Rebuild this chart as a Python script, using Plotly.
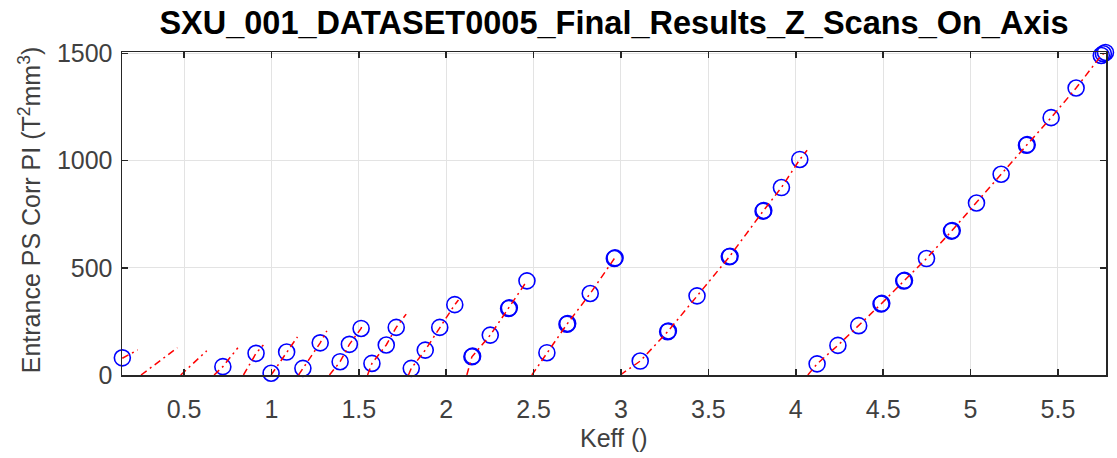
import plotly.graph_objects as go

# ---- measured points (Keff, Entrance PS Corr PI) ----
keff = [0.147, 0.722, 0.912, 0.998, 1.087, 1.180, 1.279, 1.393, 1.446, 1.513,
        1.575, 1.657, 1.714, 1.800, 1.880, 1.963, 2.049, 2.147, 2.252, 2.357,
        2.462, 2.576, 2.691, 2.824, 2.962, 3.110, 3.267, 3.435, 3.620, 3.813,
        3.918, 4.023, 4.122, 4.241, 4.360, 4.488, 4.618, 4.748, 4.891, 5.034,
        5.175, 5.320, 5.461, 5.604, 5.748, 5.760, 5.772]
pi_vals = [80, 39, 101, 8, 107, 31, 150, 62, 143, 217,
           54, 140, 222, 31, 116, 222, 328, 85, 186, 310,
           439, 104, 237, 380, 543, 65, 202, 369, 551, 764,
           874, 1005, 52, 138, 230, 331, 438, 543, 671, 802,
           936, 1071, 1200, 1338, 1490, 1498, 1504]

# repeated measurements (overlapping circles)
keff_rep = [2.151, 2.361, 2.695, 2.966, 3.271, 3.624, 3.817, 4.492, 4.622, 4.895, 5.324]
pi_rep = [88, 313, 240, 546, 205, 554, 767, 334, 441, 674, 1074]

# ---- fitted scan lines (None separates scans) ----
fit_keff = [0.147, 0.235, None,
            0.254, 0.462, None,
            0.481, 0.630, None,
            0.672, 0.722, 0.808, None,
            0.840, 0.912, 0.954, None,
            0.998, 1.087, 1.149, None,
            1.155, 1.180, 1.279, 1.317, None,
            1.332, 1.393, 1.446, 1.513, 1.520, None,
            1.550, 1.575, 1.657, 1.714, 1.771, None,
            1.784, 1.800, 1.880, 1.963, 2.049, 2.070, None,
            2.118, 2.147, 2.252, 2.357, 2.462, None,
            2.490, 2.576, 2.691, 2.824, 2.962, None,
            2.996, 3.110, 3.267, 3.435, 3.620, 3.813, 3.918, 4.023, 4.065, None,
            4.069, 4.122, 4.241, 4.360, 4.488, 4.618, 4.748, 4.891, 5.034, 5.175,
            5.320, 5.461, 5.604, 5.748, 5.775]
fit_pi = [78, 117, None,
          0, 127, None,
          0, 113, None,
          0, 39, 127, None,
          0, 101, 140, None,
          0, 107, 178, None,
          0, 31, 150, 206, None,
          0, 62, 143, 217, 235, None,
          0, 54, 140, 222, 284, None,
          0, 31, 116, 222, 328, 350, None,
          0, 85, 186, 310, 439, None,
          0, 104, 237, 380, 543, None,
          0, 65, 202, 369, 551, 764, 874, 1005, 1048, None,
          0, 52, 138, 230, 331, 438, 543, 671, 802, 936,
          1071, 1200, 1338, 1490, 1506]

x_ticks = [0.5, 1, 1.5, 2, 2.5, 3, 3.5, 4, 4.5, 5, 5.5]
x_tick_text = ["0.5", "1", "1.5", "2", "2.5", "3", "3.5", "4", "4.5", "5", "5.5"]
y_ticks = [0, 500, 1000, 1500]
y_tick_text = ["0", "500", "1000", "1500"]

title_text = "SXU_001_DATASET0005_Final_Results_Z_Scans_On_Axis"
x_title = "Keff ()"
y_title = "Entrance PS Corr PI (T<sup>2</sup>mm<sup>3</sup>)"

FONT = "Liberation Sans, Arial, Helvetica, sans-serif"
AX = "#262626"
TXT = "#404040"

W, H = 1117, 458

fig = go.Figure()
marker_style = dict(symbol="circle-open", size=16, color="#0000ff",
                    line=dict(color="#0000ff", width=1.6))
fig.add_trace(go.Scatter(x=keff, y=pi_vals, mode="markers", marker=marker_style,
                         cliponaxis=False, showlegend=False, hoverinfo="skip"))
fig.add_trace(go.Scatter(x=keff_rep, y=pi_rep, mode="markers", marker=marker_style,
                         cliponaxis=False, showlegend=False, hoverinfo="skip"))
fig.add_trace(go.Scatter(x=fit_keff, y=fit_pi, mode="lines", connectgaps=False,
                         line=dict(color="#ff0000", width=1.5, dash="7px,4px,2px,4px"),
                         showlegend=False, hoverinfo="skip"))

axis_common = dict(showgrid=True, gridcolor="#e3e3e3", gridwidth=1,
                   showline=True, linecolor=AX, linewidth=1.5, mirror="ticks",
                   ticks="inside", ticklen=6, tickwidth=1.5, tickcolor=AX,
                   zeroline=False, automargin=False,
                   tickfont=dict(family=FONT, size=25, color=TXT))

fig.update_layout(
    width=W, height=H,
    margin=dict(l=122, r=11, t=52, b=83, autoexpand=False),
    paper_bgcolor="white", plot_bgcolor="white",
    hovermode=False,
    title=dict(text=title_text, x=0.5, xref="paper", xanchor="center",
               y=1 - 23 / H, yref="container", yanchor="middle",
               font=dict(family=FONT, size=32.5, color="#000000", weight="bold")),
    xaxis=dict(range=[0.145, 5.775], tickvals=x_ticks, ticktext=x_tick_text,
               ticklabelstandoff=11, **axis_common),
    yaxis=dict(range=[0, 1506], tickvals=y_ticks, ticktext=y_tick_text,
               ticklabelstandoff=3, **axis_common),
    annotations=[
        dict(text=x_title, x=0.5, xref="paper", y=-(438 - 375) / 323, yref="paper",
             xanchor="center", yanchor="middle", showarrow=False,
             font=dict(family=FONT, size=25, color=TXT)),
        dict(text=y_title, x=-(122 - 30) / 984, xref="paper", y=0.51, yref="paper",
             xanchor="center", yanchor="middle", showarrow=False, textangle=-90,
             font=dict(family=FONT, size=25, color=TXT)),
    ],
)

# remove the default page margin so the figure sits at the window's top-left corner
fig.write_html("out.html", config={"displayModeBar": False, "staticPlot": True},
               post_script="document.body.style.margin='0';")
